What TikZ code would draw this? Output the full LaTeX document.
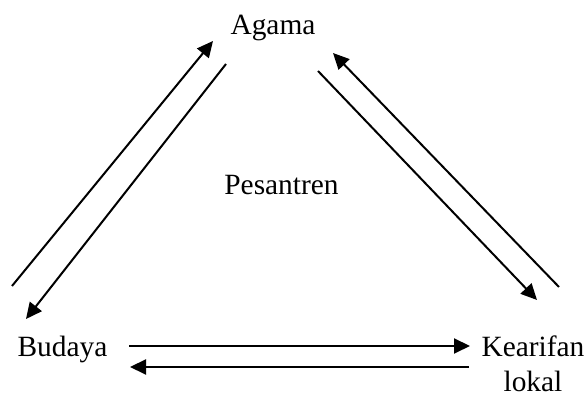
\documentclass[tikz,border=0pt]{standalone}
\usepackage{fontspec}
\setmainfont{Liberation Serif}
\usetikzlibrary{arrows.meta}
\begin{document}
\begin{tikzpicture}[x=0.5pt,y=-0.5pt,
  lbl/.style={inner sep=0pt,font=\fontsize{14.7}{17.8}\selectfont},
  conn/.style={line width=1pt,-{Triangle[length=8pt,width=7.5pt]}}]
\useasboundingbox (0,0) rectangle (585,394);
\node[lbl,anchor=base] (agama) at (273,35) {Agama};
\node[lbl,anchor=base] (pes) at (281.5,195) {Pesantren};
\node[lbl,anchor=base] (budaya) at (62.5,357) {Budaya};
\node[lbl,anchor=north,align=center] (kear) at (533,335) {Kearifan\\lokal};
% left pair
\coordinate (l1s) at (12,286);
\coordinate (l1e) at (213,41);
\coordinate (l2s) at (226,64);
\coordinate (l2e) at (26,319);
% right pair
\coordinate (r1s) at (559,287);
\coordinate (r1e) at (333,53);
\coordinate (r2s) at (318,71);
\coordinate (r2e) at (537,300);
% bottom pair
\coordinate (b1s) at (129,346);
\coordinate (b1e) at (470,346);
\coordinate (b2s) at (469,367);
\coordinate (b2e) at (130,367);
\draw[conn] (l1s) -- (l1e);
\draw[conn] (l2s) -- (l2e);
\draw[conn] (r1s) -- (r1e);
\draw[conn] (r2s) -- (r2e);
\draw[conn] (b1s) -- (b1e);
\draw[conn] (b2s) -- (b2e);
\end{tikzpicture}
\end{document}
